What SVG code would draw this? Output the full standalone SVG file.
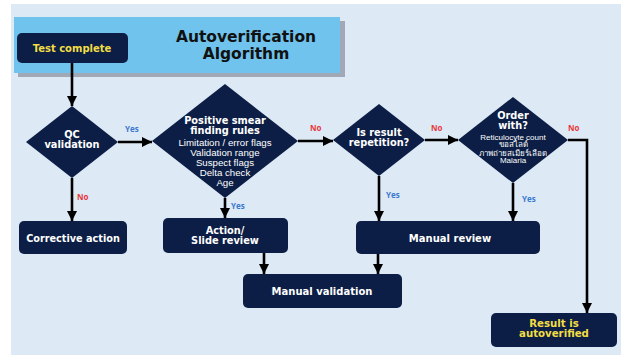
<svg xmlns="http://www.w3.org/2000/svg" width="621" height="356" viewBox="0 0 621 356">
<defs>
<marker id="ah" markerUnits="userSpaceOnUse" markerWidth="12" markerHeight="10" refX="10" refY="5" orient="auto">
<path d="M0,0 L10,5 L0,10 Z" fill="#000"/>
</marker>
<style>
.node{fill:#0c1e45;}
.bt{font-family:"DejaVu Sans","Noto Sans",sans-serif;font-weight:700;fill:#fff;text-anchor:middle;}
.yt{font-family:"DejaVu Sans","Noto Sans",sans-serif;font-weight:700;fill:#f2dd45;text-anchor:middle;}
.rt{font-family:"Liberation Sans",Arial,sans-serif;fill:#fff;text-anchor:middle;font-weight:400;}
.ln{stroke:#000;stroke-width:2.6;fill:none;marker-end:url(#ah);}
.yes{font-family:"Open Sans","Noto Sans",sans-serif;font-weight:700;fill:#3a78d0;font-size:8px;}
.no{font-family:"Open Sans","Noto Sans",sans-serif;font-weight:700;fill:#e8383d;font-size:8px;}
</style>
</defs>
<rect x="11" y="4" width="610" height="351" fill="#dde9f5"/>
<g id="title">
<rect x="18" y="21" width="327" height="56" fill="#a0a9b5"/>
<rect x="14" y="17" width="326" height="56" fill="#6fc3ec"/>
<text x="246" y="42" font-family="DejaVu Sans,sans-serif" font-weight="700" font-size="15.5" text-anchor="middle" fill="#111">Autoverification<tspan x="246" y="59">Algorithm</tspan></text>
</g>
<g id="connectors">
<path class="ln" d="M72,63 V106"/>
<path class="ln" d="M118,142 H152"/>
<path class="ln" d="M72,178 V221"/>
<path class="ln" d="M298,141 H333"/>
<path class="ln" d="M425,140 H458"/>
<path class="ln" d="M568,140 H587 V313"/>
<path class="ln" d="M225,198 V218"/>
<path class="ln" d="M379,176 V221"/>
<path class="ln" d="M513,183 V221"/>
<path class="ln" d="M264,253 V274"/>
<path class="ln" d="M378,254 V274"/>
<text class="yes" x="125" y="132">Yes</text>
<text class="no" x="77" y="200">No</text>
<text class="yes" x="231" y="209" font-size="7">Yes</text>
<text class="no" x="310" y="131">No</text>
<text class="yes" x="386" y="198">Yes</text>
<text class="no" x="431" y="131">No</text>
<text class="yes" x="522" y="202">Yes</text>
<text class="no" x="568" y="131">No</text>
</g>
<g id="test-complete">
<rect class="node" x="17" y="33" width="111" height="30" rx="5"/>
<text class="yt" x="72" y="51.6" font-size="10">Test complete</text>
</g>
<g id="qc-validation">
<polygon class="node" points="72,106 118,142 72,178 26,142"/>
<text class="bt" x="72" y="137.8" font-size="9.8">QC<tspan x="72" y="147.8">validation</tspan></text>
</g>
<g id="corrective-action">
<rect class="node" x="19" y="221" width="108" height="33" rx="5"/>
<text class="bt" x="73" y="241.5" font-size="9.7">Corrective action</text>
</g>
<g id="positive-smear">
<polygon class="node" points="225,84 298,141 225,198 152,141"/>
<text class="bt" x="225" y="123.5" font-size="9.8">Positive smear<tspan x="225" y="133.5">finding rules</tspan><tspan class="rt" x="225" y="146" font-size="9.7">Limitation / error flags</tspan><tspan class="rt" x="225" y="156" font-size="9.7">Validation range</tspan><tspan class="rt" x="225" y="166" font-size="9.7">Suspect flags</tspan><tspan class="rt" x="225" y="176" font-size="9.7">Delta check</tspan><tspan class="rt" x="225" y="186" font-size="9.7">Age</tspan></text>
</g>
<g id="action-slide-review">
<rect class="node" x="163" y="218" width="125" height="35" rx="5"/>
<text class="bt" x="225" y="233.5" font-size="9.8">Action/<tspan x="225" y="243.5">Slide review</tspan></text>
</g>
<g id="is-result-repetition">
<polygon class="node" points="379,104 425,140 379,176 333,140"/>
<text class="bt" x="379" y="135.8" font-size="9.8">Is result<tspan x="379" y="145.8">repetition?</tspan></text>
</g>
<g id="order-with">
<polygon class="node" points="513,97 568,140 513,183 458,140"/>
<text class="bt" x="513" y="118.8" font-size="9.8">Order<tspan x="513" y="128.8">with?</tspan><tspan class="rt" x="513" y="139.5" font-size="8">Reticulocyte count</tspan><tspan class="rt" x="513" y="147" font-size="8">ขอสไลด์</tspan><tspan class="rt" x="513" y="155.5" font-size="8">ภาพถ่ายสเมียร์เลือด</tspan><tspan class="rt" x="513" y="163" font-size="8">Malaria</tspan></text>
</g>
<g id="manual-review">
<rect class="node" x="356" y="221" width="184" height="33" rx="5"/>
<text class="bt" x="450" y="241.6" font-size="10">Manual review</text>
</g>
<g id="manual-validation">
<rect class="node" x="243" y="274" width="159" height="34" rx="5"/>
<text class="bt" x="322" y="294.6" font-size="10">Manual validation</text>
</g>
<g id="result-autoverified">
<rect class="node" x="491" y="313" width="126" height="34" rx="5"/>
<text class="yt" x="554" y="326.8" font-size="10.2">Result is<tspan x="554" y="337.2">autoverified</tspan></text>
</g>
</svg>
